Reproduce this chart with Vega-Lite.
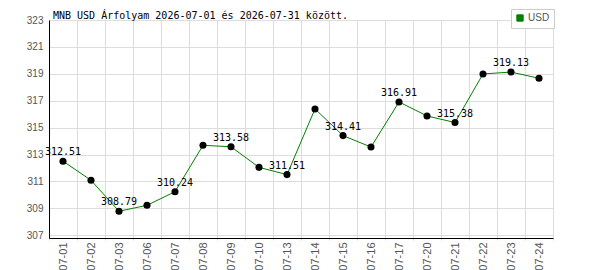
{
  "$schema": "https://vega.github.io/schema/vega-lite/v6.json",
  "width": 504,
  "height": 218,
  "autosize": {"type": "none"},
  "padding": {"left": 49, "top": 20, "right": 47, "bottom": 32},
  "background": "white",
  "title": {
    "text": "MNB USD Árfolyam 2026-07-01 és 2026-07-31 között.",
    "anchor": "start",
    "frame": "group",
    "font": "DejaVu Sans Mono",
    "fontSize": 10,
    "fontWeight": "normal",
    "color": "#000000",
    "dx": 4,
    "offset": -20,
    "baseline": "alphabetic"
  },
  "config": {
    "view": {"stroke": "#dddddd"}
  },
  "data": {
    "values": [
      {"date": "07-01", "value": 312.51, "show": true, "currency": "USD"},
      {"date": "07-02", "value": 311.09, "show": false, "currency": "USD"},
      {"date": "07-03", "value": 308.79, "show": true, "currency": "USD"},
      {"date": "07-06", "value": 309.23, "show": false, "currency": "USD"},
      {"date": "07-07", "value": 310.24, "show": true, "currency": "USD"},
      {"date": "07-08", "value": 313.69, "show": false, "currency": "USD"},
      {"date": "07-09", "value": 313.58, "show": true, "currency": "USD"},
      {"date": "07-10", "value": 312.05, "show": false, "currency": "USD"},
      {"date": "07-13", "value": 311.51, "show": true, "currency": "USD"},
      {"date": "07-14", "value": 316.39, "show": false, "currency": "USD"},
      {"date": "07-15", "value": 314.41, "show": true, "currency": "USD"},
      {"date": "07-16", "value": 313.56, "show": false, "currency": "USD"},
      {"date": "07-17", "value": 316.91, "show": true, "currency": "USD"},
      {"date": "07-20", "value": 315.87, "show": false, "currency": "USD"},
      {"date": "07-21", "value": 315.38, "show": true, "currency": "USD"},
      {"date": "07-22", "value": 318.99, "show": false, "currency": "USD"},
      {"date": "07-23", "value": 319.13, "show": true, "currency": "USD"},
      {"date": "07-24", "value": 318.67, "show": false, "currency": "USD"}
    ]
  },
  "encoding": {
    "x": {
      "field": "date",
      "type": "ordinal",
      "sort": null,
      "scale": {"type": "band", "paddingInner": 0, "paddingOuter": 0},
      "axis": {
        "title": null,
        "tickBand": "extent",
        "grid": true,
        "gridColor": "#dddddd",
        "ticks": true,
        "tickColor": "#dddddd",
        "tickSize": 2,
        "domainColor": "#000000",
        "labelAngle": 270,
        "labelAlign": "right",
        "labelBaseline": "middle",
        "labelPadding": 2,
        "labelFont": "Liberation Sans",
        "labelFontSize": 11,
        "labelColor": "#555555"
      }
    },
    "y": {
      "field": "value",
      "type": "quantitative",
      "scale": {"domain": [306.8, 323], "nice": false, "zero": false},
      "axis": {
        "title": null,
        "values": [307, 309, 311, 313, 315, 317, 319, 321, 323],
        "grid": true,
        "gridColor": "#dddddd",
        "ticks": false,
        "domainColor": "#000000",
        "labelPadding": 6,
        "labelFont": "Liberation Sans",
        "labelFontSize": 10,
        "labelColor": "#555555"
      }
    }
  },
  "layer": [
    {
      "mark": {"type": "line", "strokeWidth": 1},
      "encoding": {
        "color": {
          "field": "currency",
          "type": "nominal",
          "scale": {"range": ["#008000"]},
          "legend": {
            "orient": "none",
            "legendX": 462,
            "legendY": -11,
            "title": null,
            "padding": 4,
            "strokeColor": "#cccccc",
            "fillColor": "#ffffff",
            "symbolType": "square",
            "symbolSize": 40,
            "labelFont": "Liberation Sans",
            "labelFontSize": 10,
            "labelColor": "#555555",
            "labelOffset": 3,
            "encode": {
              "symbols": {
                "update": {
                  "fill": {"value": "#008000"},
                  "stroke": {"value": "#444444"},
                  "strokeWidth": {"value": 1}
                }
              }
            }
          }
        }
      }
    },
    {
      "mark": {"type": "circle", "size": 50, "color": "#000000", "opacity": 1}
    },
    {
      "transform": [{"filter": "datum.show"}],
      "mark": {
        "type": "text",
        "font": "DejaVu Sans Mono",
        "fontSize": 10,
        "color": "#000000",
        "baseline": "alphabetic",
        "dy": -6
      },
      "encoding": {
        "text": {"field": "value", "type": "quantitative", "format": ".2f"}
      }
    }
  ]
}
